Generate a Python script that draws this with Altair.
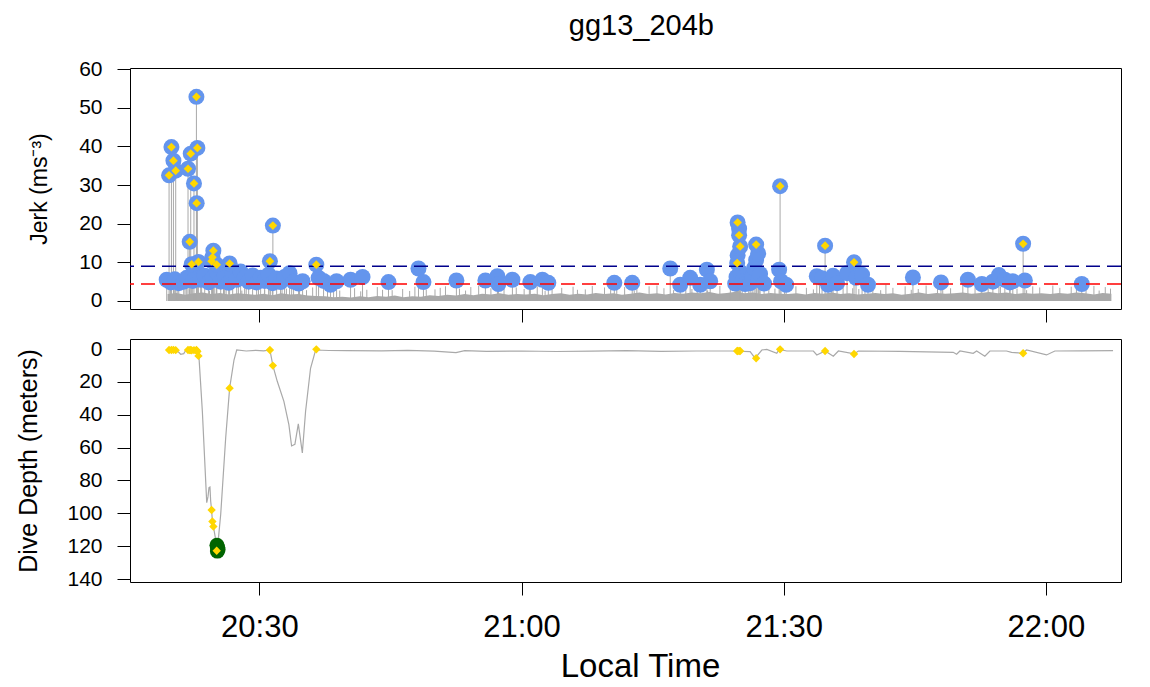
import altair as alt
import pandas as pd

FONT = "Liberation Sans"
GRAY = "#A9A9A9"

# ---------------- data ----------------
tick_minutes = [30, 60, 90, 120]            # minutes after 20:00
tick_labels = ["20:30", "21:00", "21:30", "22:00"]
x_domain = [15.2, 128.6]

jerk_ticks = [0, 10, 20, 30, 40, 50, 60]
depth_ticks = [0, 20, 40, 60, 80, 100, 120, 140]

# thresholds
thr_values = [9.0, 4.4]
thr_colors = ["#00008B", "#FF0000"]

# background jerk envelope (every minute from 19.5)
noise_start = 19.5
noise_vals = [
    1.8, 2.1, 1.6, 2.0, 2.2, 1.8, 2.1, 1.7, 2.0, 1.8, 1.6,
    1.9, 1.5, 2.0, 1.7, 1.8, 1.4, 1.3, 1.2, 1.0, 1.1,
    0.9, 1.2, 1.0, 1.3, 1.1, 1.4, 1.0, 1.2, 1.1, 1.5,
    1.3, 1.6, 1.4, 1.8, 1.5, 1.9, 1.7, 2.0, 1.6, 1.8,
    1.7, 1.9, 1.5, 1.8, 2.0, 1.6, 1.9, 1.7, 2.1, 1.8,
    2.0, 1.6, 1.9, 2.2, 1.8, 2.0, 1.7, 2.1, 1.9, 2.2,
    2.0, 2.3, 1.9, 2.1, 2.4, 2.0, 2.2, 1.8, 2.1, 1.9,
    1.8, 2.0, 1.7, 2.1, 1.9, 2.2, 1.8, 2.0, 1.7, 1.9,
    2.1, 1.8, 2.0, 1.6, 1.9, 2.2, 1.8, 2.1, 1.9, 2.0,
    2.2, 1.9, 2.1, 2.3, 2.0, 2.2, 1.8, 2.1, 1.9, 2.0,
    1.8, 2.1, 1.9, 2.2, 2.0, 1.7, 2.1, 1.9,
]

spike_t = [19.8, 20.6, 21.5, 23.4, 24.9, 26.2, 27.6, 28.5, 29.9, 31.3,
           32.6, 33.7, 35.4, 36.1, 37.8, 39.2, 40.9, 42.3, 43.5, 45.2,
           46.4, 47.8, 49.1, 50.7, 51.3, 52.9, 54.2, 55.1, 56.5, 58.0,
           59.4, 60.3, 61.8, 63.5, 64.6, 65.9, 67.3, 68.1, 69.5, 70.9,
           71.8, 73.2, 74.6, 75.5, 76.3, 78.8, 80.1, 82.7, 83.9, 86.0,
           88.3, 89.0, 91.4, 92.6, 94.1, 96.8, 97.9, 99.3, 100.2, 101.7,
           102.5, 103.9, 105.4, 106.3, 107.6, 109.1, 110.5, 111.9, 113.4, 114.8,
           116.7, 118.5, 119.3, 120.8, 121.6, 122.9, 124.6, 125.5, 126.8, 127.4,
           20.2, 22.0, 24.3, 25.9, 28.0, 30.6, 33.1, 34.6, 38.5, 41.6,
           44.1, 47.2, 50.1, 53.6, 57.3, 60.9, 62.7, 66.4, 70.2, 72.9,
           77.4, 79.5, 81.3, 84.8, 87.2, 90.1, 93.4, 95.5, 98.6, 101.1,
           104.6, 108.2, 112.6, 115.9, 117.8, 123.5, 126.1]
spike_h = [3.4, 4.2, 3.1, 3.8, 4.5, 3.3, 4.0, 3.6, 2.9, 4.4,
           3.2, 3.9, 2.8, 3.5, 3.0, 2.7, 3.3, 2.9, 3.6, 2.8,
           3.1, 3.7, 2.9, 3.4, 3.8, 3.2, 3.6, 4.0, 3.3, 3.9,
           3.5, 3.1, 3.8, 4.1, 3.4, 3.7, 3.0, 3.9, 3.5, 4.2,
           3.6, 3.2, 3.8, 4.0, 3.3, 3.7, 4.3, 3.9, 3.5, 4.1,
           3.6, 3.2, 3.8, 3.4, 4.0, 3.7, 3.3, 3.9, 3.5, 4.2,
           3.4, 3.8, 3.1, 4.0, 3.6, 3.3, 3.9, 3.5, 4.1, 3.7,
           3.2, 3.8, 3.5, 4.0, 3.4, 3.7, 3.3, 3.9, 3.6, 3.2,
           2.8, 3.0, 2.6, 3.1, 2.7, 2.9, 3.2, 2.6, 2.8, 2.5,
           2.9, 2.6, 3.0, 2.7, 2.8, 3.1, 2.6, 2.9, 3.0, 2.7,
           2.8, 3.1, 2.7, 2.9, 3.2, 2.8, 3.0, 2.6, 3.1, 2.8,
           2.9, 3.0, 2.7, 3.1, 2.8, 3.0, 2.7]

# detected events below the upper threshold (blue circles only)
ev_t = [19.40, 19.86, 20.32, 20.78, 21.35, 21.69, 22.38, 22.83, 23.29, 23.75,
        24.20, 24.66, 25.12, 25.58, 26.03, 26.49, 26.95, 27.41, 27.86, 28.32,
        28.78, 29.23, 29.69, 30.15, 30.61, 31.06, 31.52, 31.98, 32.43, 32.89,
        33.46, 33.92, 34.49, 34.95, 36.78, 37.35, 38.15, 38.84, 40.44, 41.81,
        44.78, 48.21, 48.78, 52.55, 55.87, 57.24, 57.35, 58.96, 61.01, 62.39,
        63.07, 70.62, 72.67, 77.02, 78.16, 79.30, 80.45, 81.21, 81.59,
        84.45, 84.60, 84.73, 84.90, 85.02, 85.25, 85.59,
        86.16, 86.39, 86.62, 86.85, 87.08, 87.08, 87.30, 87.76,
        89.48, 89.70, 90.28, 93.79, 94.39, 95.08, 95.65, 96.11,
        97.25, 98.28, 98.97, 99.65, 104.79, 108.00, 111.08, 112.68,
        113.94, 114.63, 115.31, 115.88, 116.22, 117.60, 124.11]
ev_j = [5.5, 4.8, 5.6, 4.6, 5.0, 6.0, 5.2, 7.0, 5.5, 6.5,
        4.8, 6.0, 7.5, 5.0, 6.3, 4.7, 7.0, 5.5, 7.6, 6.0,
        5.0, 6.6, 4.8, 6.0, 5.2, 6.8, 4.6, 5.8, 4.9, 6.2,
        7.2, 5.0, 4.5, 5.1, 6.0, 5.2, 4.2, 5.1, 5.5, 6.2,
        4.9, 8.4, 4.9, 5.3, 5.3, 6.4, 4.4, 5.5, 4.9, 5.5,
        4.7, 4.7, 4.7, 8.4, 4.2, 6.0, 4.2, 8.1, 5.1,
        4.5, 6.2, 11.8, 18.7, 7.5, 5.0, 4.4,
        4.6, 6.3, 8.5, 10.6, 12.3, 5.5, 7.0, 4.5,
        8.1, 5.1, 4.2, 6.4, 5.9, 4.2, 6.5, 4.6,
        7.2, 6.0, 6.8, 4.2, 6.1, 4.8, 5.5, 4.4,
        5.0, 6.7, 5.5, 4.8, 5.1, 5.3, 4.4]

# events above the upper threshold (diamonds), with their dive depth
dia_t = [19.67, 19.94, 20.17, 20.43, 21.84, 22.03, 22.15, 22.26, 22.52, 22.80,
         22.83, 22.91, 23.03, 24.54, 24.63, 24.74, 25.12, 26.60, 31.21, 31.55,
         36.52, 84.68, 84.73, 84.90, 85.02, 86.85, 89.59, 94.74, 98.05, 117.40]
dia_j = [32.5, 39.8, 36.3, 33.7, 34.2, 15.3, 38.1, 9.5, 30.4, 52.8,
         25.3, 39.6, 10.1, 10.3, 11.3, 13.0, 9.4, 9.7, 10.3, 19.5,
         9.4, 9.8, 20.3, 17.0, 14.1, 14.6, 29.7, 14.3, 10.0, 14.8]
dia_d = [0.6, 0.6, 0.5, 0.7, 0.6, 0.7, 0.6, 0.8, 0.7, 0.6,
         1.0, 1.5, 4.2, 98.0, 105.0, 108.0, 122.8, 23.8, 0.6, 10.1,
         0.2, 1.2, 1.2, 1.2, 1.2, 5.6, 0.2, 1.2, 3.0, 2.6]

# bottom-phase markers
green_t = [25.15, 25.22, 25.28, 25.20]
green_d = [119.4, 120.6, 122.0, 123.0]

# dive profile
depth_t = [19.40, 20.43, 20.78, 21.00, 21.35, 21.58, 22.15, 22.83, 23.06, 23.10,
           23.48, 23.75, 23.98, 24.12, 24.24, 24.35, 24.43, 24.54, 24.63, 24.74,
           25.00, 25.12, 25.27, 25.58, 26.15, 26.60, 27.10, 27.41, 28.5, 29.6,
           30.5, 31.21, 31.55, 32.06, 32.81, 33.38, 33.69, 34.07, 34.46, 34.92,
           35.29, 35.86, 36.44, 38.0, 40.0, 44.0, 47.0, 50.0, 52.5, 53.5,
           56.0, 60.0, 64.0, 68.0, 72.0, 76.0, 80.0, 84.0, 86.16, 86.73,
           87.50, 88.07, 89.21, 89.48, 90.36, 93.40, 93.79, 94.74, 95.68, 96.26,
           98.08, 98.54, 103.31, 109.40, 109.79, 110.17, 111.69, 112.08, 113.02, 113.60,
           115.50, 116.08, 117.33, 117.79, 120.08, 121.03, 124.0, 127.69]
depth_d = [0.6, 1.0, 2.0, 3.2, 2.8, 0.8, 0.7, 1.2, 5.0, 5.6,
           38.0, 68.0, 93.5, 90.0, 84.4, 84.0, 92.5, 98.0, 105.0, 108.0,
           115.8, 122.0, 118.0, 100.6, 54.0, 23.8, 6.7, 0.6, 1.2, 0.8,
           1.1, 0.6, 10.1, 19.8, 31.9, 46.0, 59.0, 58.0, 45.6, 63.2,
           38.0, 11.7, 0.6, 0.9, 1.0, 1.1, 0.8, 1.3, 2.2, 1.0,
           1.4, 1.2, 1.5, 1.3, 1.0, 1.4, 1.2, 1.2, 1.6, 5.6,
           0.6, 0.2, 2.6, 0.2, 1.2, 1.2, 3.6, 1.2, 4.4, 1.2,
           3.0, 1.2, 1.4, 2.0, 3.2, 1.2, 2.6, 1.2, 4.4, 1.2,
           1.2, 2.0, 2.6, 0.6, 3.6, 1.2, 1.1, 1.0]

# ---------------- frames ----------------
noise_df = pd.DataFrame({
    "t": [noise_start + i for i in range(len(noise_vals))],
    "j": noise_vals, "j0": 0.0})
spike_df = pd.DataFrame({"t": spike_t, "j": spike_h, "j0": 0.0})
all_t = ev_t + dia_t
all_j = ev_j + dia_j
event_df = pd.DataFrame({"t": all_t, "j": all_j, "j0": 0.0})
dia_df = pd.DataFrame({"t": dia_t, "j": dia_j, "d": dia_d})
thr_df = pd.DataFrame({"j": thr_values, "c": thr_colors})
green_df = pd.DataFrame({"t": green_t, "d": green_d})
depth_df = pd.DataFrame({"t": depth_t, "d": depth_d})

label_expr = ""
for m, l in zip(tick_minutes, tick_labels):
    label_expr += f"datum.value == {m} ? '{l}' : "
label_expr += "''"

W = 991
H_TOP = 241
H_BOT = 243

AX_COMMON = dict(labelFont=FONT, titleFont=FONT, labelColor="black",
                 titleColor="black", tickColor="black", tickWidth=1,
                 titleFontWeight="normal", domain=False, grid=False,
                 tickSize=13)


def xenc(show_labels):
    return alt.X(
        "t:Q",
        scale=alt.Scale(domain=x_domain, nice=False, zero=False),
        axis=alt.Axis(
            values=tick_minutes, labels=show_labels, labelExpr=label_expr,
            title="Local Time" if show_labels else None,
            labelFontSize=31, labelPadding=17, titleFontSize=33,
            titlePadding=8, titleX=510, labelFlush=False, **AX_COMMON),
    )


ytop = alt.Y(
    "j:Q",
    scale=alt.Scale(domain=[-2.07, 60.26], nice=False, zero=False),
    axis=alt.Axis(values=jerk_ticks, title="Jerk (ms⁻³)",
                  labelPadding=15, labelFontSize=21, titleFontSize=23,
                  titlePadding=27, **AX_COMMON),
)
ybot = alt.Y(
    "d:Q",
    scale=alt.Scale(domain=[-6.1, 141.8], nice=False, zero=False, reverse=True),
    axis=alt.Axis(values=depth_ticks, title="Dive Depth (meters)",
                  labelPadding=15, labelFontSize=21, titleFontSize=25,
                  titlePadding=25, **AX_COMMON),
)

noise = alt.Chart(noise_df).mark_area(color=GRAY, opacity=1).encode(
    x=xenc(False), y=ytop, y2="j0:Q")
spikes = alt.Chart(spike_df).mark_rule(color=GRAY, strokeWidth=1).encode(
    x=xenc(False), y=ytop, y2="j0:Q")
stems = alt.Chart(event_df).mark_rule(color=GRAY, strokeWidth=1).encode(
    x=xenc(False), y=ytop, y2="j0:Q")
circles = alt.Chart(event_df).mark_circle(size=256, color="#6495ED", opacity=1).encode(
    x=xenc(False), y=ytop)
thresholds = alt.Chart(thr_df).mark_rule(strokeWidth=1.5, strokeDash=[14, 7]).encode(
    y=ytop, color=alt.Color("c:N", scale=None))
diamonds = alt.Chart(dia_df).mark_point(shape="diamond", filled=True, size=76,
                                        color="#FFD700", opacity=1).encode(
    x=xenc(False), y=ytop)

top = alt.layer(noise, spikes, stems, circles, thresholds, diamonds).properties(
    width=W, height=H_TOP)

profile = alt.Chart(depth_df).mark_line(color=GRAY, strokeWidth=1.2).encode(
    x=xenc(True), y=ybot)
greens = alt.Chart(green_df).mark_circle(size=225, color="#006400", opacity=1).encode(
    x=xenc(True), y=ybot)
dia_bot = alt.Chart(dia_df).mark_point(shape="diamond", filled=True, size=70,
                                       color="#FFD700", opacity=1).encode(
    x=xenc(True), y=ybot)

bottom = alt.layer(profile, greens, dia_bot).properties(width=W, height=H_BOT)

chart = alt.vconcat(top, bottom, spacing=14).resolve_scale(x="independent").properties(
    title=alt.TitleParams("gg13_204b", fontSize=29, font=FONT, fontWeight="normal",
                          anchor="middle", offset=17, dx=72, color="black"),
    padding={"left": 8, "top": 3, "right": 5, "bottom": 0},
    background="white",
).configure_view(stroke="black", strokeWidth=1)

chart.save("out.html", embed_options={"renderer": "svg", "actions": False})
